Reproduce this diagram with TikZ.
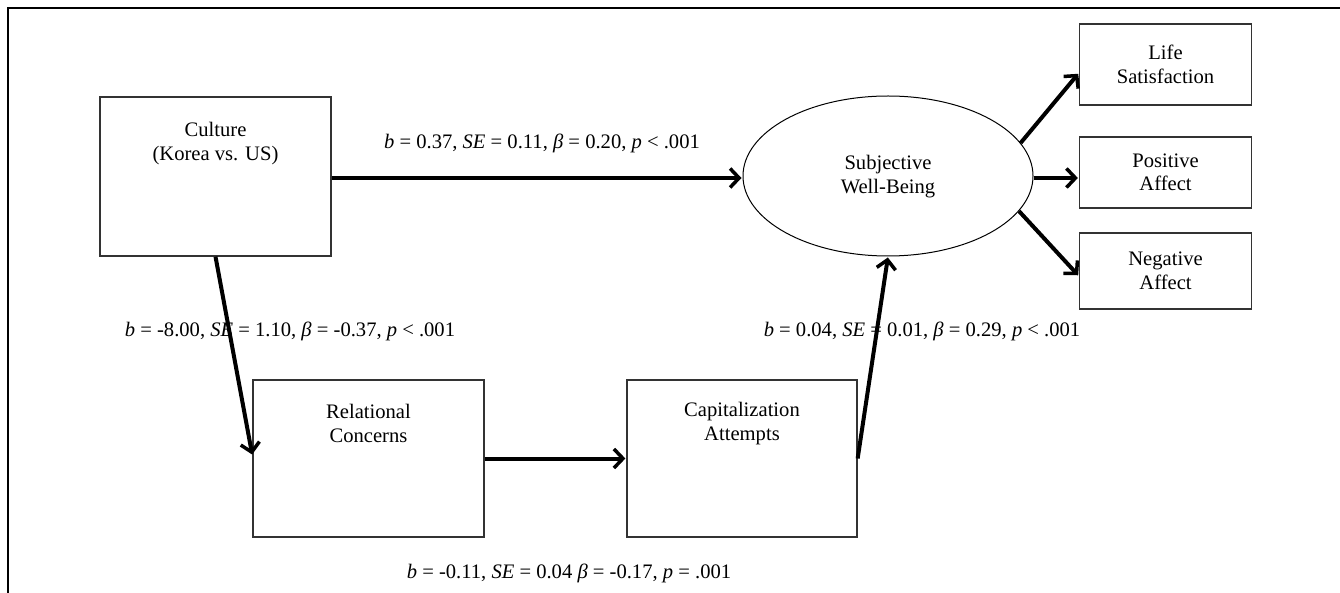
\documentclass[tikz,border=0pt]{standalone}
\usepackage{fontspec}
\setmainfont{Liberation Serif}
\usetikzlibrary{arrows.meta,shapes.geometric}
\tikzset{
  box/.style={draw=black!80, line width=1.3pt, rectangle, inner sep=0pt},
  txt/.style={align=center, font=\fontsize{20.6}{23.5}\selectfont, inner sep=0pt},
  lbl/.style={font=\fontsize{20.6}{23.5}\selectfont, inner sep=0pt},
  path/.style={line width=4pt, black, -{Straight Barb[length=9pt,width=19pt,line width=3.5pt]}, shorten >=1pt},
  frame/.style={line width=2pt, black}
}
\begin{document}
\begin{tikzpicture}[x=1pt,y=-1pt]
\useasboundingbox (0,0) rectangle (1340,593);
% frame
\coordinate (fa) at (7.5,593);
\coordinate (fb) at (7.5,8);
\coordinate (fc) at (1340,8);
\draw[frame] (fa) -- (fb) -- (fc);
% boxes
\node[box, minimum width=231pt, minimum height=159pt] (cul) at (215.5,176.5) {};
\node[txt] (cult) at (215.5,143.5) {Culture\\(Korea vs. US)};
\node[box, minimum width=231pt, minimum height=157pt] (rel) at (368.5,458.5) {};
\node[txt] (relt) at (368.5,423.5) {Relational\\Concerns};
\node[box, minimum width=230pt, minimum height=157pt] (cap) at (742,458.5) {};
\node[txt] (capt) at (742,423.5) {Capitalization\\Attempts};
\node[draw=black, line width=1pt, ellipse, minimum width=290pt, minimum height=160pt, inner sep=0pt] (swb) at (888,176) {};
\node[txt] (swbt) at (888,176.5) {Subjective\\Well-Being};
\node[box, minimum width=172pt, minimum height=81pt, txt] (life) at (1165.5,64.5) {Life\\Satisfaction};
\node[box, minimum width=172pt, minimum height=71pt, txt] (pos) at (1165.5,172.5) {Positive\\Affect};
\node[box, minimum width=172pt, minimum height=76pt, txt] (neg) at (1165.5,271) {Negative\\Affect};
% arrows
\draw[path] ([yshift=-1.5pt]cul.east) -- ([yshift=-1.5pt]cul.east -| swb.west);
\draw[path] (cul.south) -- ([yshift=3pt]rel.west);
\draw[path] (rel.east) -- (cap.west);
\draw[path] (cap.east) -- (swb.south);
\draw[path] (swb.14.7) -- ([yshift=-8.5pt]life.west);
\draw[path] ([yshift=-2pt]swb.east) -- ([yshift=-2pt]swb.east -| pos.west);
\draw[path] (swb.-15) -- ([yshift=-5pt]neg.west);
% labels
\node[lbl] (l1) at (542,143) {\textit{b} = 0.37, \textit{SE} = 0.11, \textit{β} = 0.20, \textit{p} < .001};
\node[lbl] (l2) at (290,331) {\textit{b} = -8.00, \textit{SE} = 1.10, \textit{β} = -0.37, \textit{p} < .001};
\node[lbl] (l3) at (922,331) {\textit{b} = 0.04, \textit{SE} = 0.01, \textit{β} = 0.29, \textit{p} < .001};
\node[lbl] (l4) at (569,573) {\textit{b} = -0.11, \textit{SE} = 0.04 \textit{β} = -0.17, \textit{p} = .001};
\end{tikzpicture}
\end{document}
